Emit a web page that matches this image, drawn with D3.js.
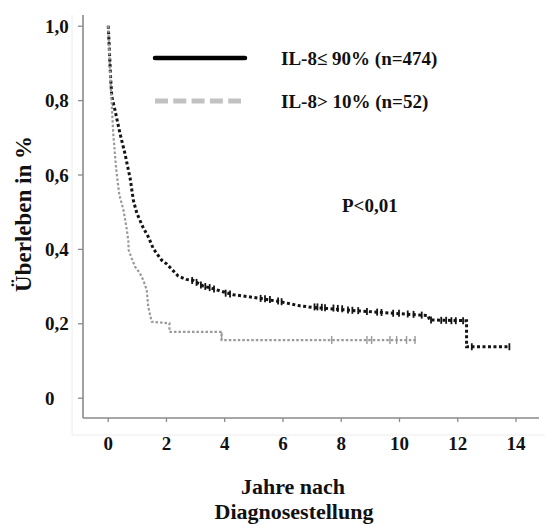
<!DOCTYPE html>
<html>
<head>
<meta charset="utf-8">
<script src="https://cdn.jsdelivr.net/npm/d3@7"></script>
<style>
    body { margin: 0; background: #fff; }
    svg text { font-family: "Liberation Serif", "DejaVu Serif", serif; font-weight: bold; fill: #111; }
</style>
</head>
<body>
<svg id="km" width="545" height="525" viewBox="0 0 545 525"></svg>
<script>
// Survival curve IL-8 <= 90% (years, survival)
const curveLow = [
    [0.02, 1.0], [0.1, 0.86], [0.14, 0.81], [0.25, 0.773], [0.42, 0.711], [0.59, 0.657],
    [0.71, 0.612], [0.77, 0.59], [0.88, 0.531], [1.0, 0.496], [1.2, 0.46], [1.39, 0.433],
    [1.57, 0.40], [1.85, 0.37], [2.02, 0.36], [2.42, 0.327], [2.7, 0.318], [2.94, 0.315],
    [3.28, 0.300], [3.57, 0.294], [3.86, 0.287], [4.31, 0.277], [5.23, 0.267], [5.92, 0.258],
    [6.6, 0.247], [7.0, 0.243], [7.52, 0.240], [8.66, 0.233], [9.8, 0.227], [10.72, 0.222],
    [11.0, 0.221], [11.05, 0.209], [12.32, 0.207], [12.32, 0.137], [13.79, 0.137]
];
// Survival curve IL-8 > 10%
const curveHigh = [
    [0.02, 1.0], [0.1, 0.845], [0.19, 0.711], [0.29, 0.615], [0.4, 0.545], [0.54, 0.505],
    [0.65, 0.455], [0.71, 0.42], [0.72, 0.397], [0.82, 0.375], [0.94, 0.352], [1.11, 0.334],
    [1.22, 0.316], [1.34, 0.29], [1.39, 0.245], [1.51, 0.204], [2.12, 0.2], [2.12, 0.177],
    [3.91, 0.177], [3.91, 0.155], [10.6, 0.155]
];
// Censored observations
const censorLow = [
    [2.9, 0.315], [3.05, 0.31], [3.2, 0.303], [3.35, 0.299], [3.5, 0.296], [3.65, 0.292],
    [4.05, 0.281], [4.2, 0.279], [5.25, 0.267], [5.4, 0.266], [5.57, 0.264], [5.85, 0.26],
    [5.97, 0.258], [7.1, 0.244], [7.2, 0.244], [7.35, 0.243], [7.46, 0.242], [7.75, 0.241],
    [7.9, 0.24], [8.05, 0.239], [8.25, 0.236], [8.4, 0.235], [8.6, 0.234], [8.9, 0.232],
    [9.25, 0.23], [9.4, 0.229], [9.8, 0.227], [10.0, 0.227], [10.3, 0.225], [10.5, 0.224],
    [10.78, 0.222], [11.1, 0.209], [11.45, 0.208], [11.62, 0.208], [11.8, 0.207], [11.95, 0.207],
    [12.2, 0.207], [12.5, 0.137], [13.79, 0.137]
];
const censorHigh = [
    [3.91, 0.166], [7.69, 0.155], [8.9, 0.155], [9.06, 0.155], [9.69, 0.155], [9.92, 0.155],
    [10.26, 0.155], [10.55, 0.155]
];

const xTicks = [0, 2, 4, 6, 8, 10, 12, 14];
const yTicks = [0, 0.2, 0.4, 0.6, 0.8, 1.0];
const yTickLabels = ["0", "0,2", "0,4", "0,6", "0,8", "1,0"];
const legendLabels = ["IL-8\u2264 90% (n=474)", "IL-8> 10% (n=52)"];

const svg = d3.select("#km");

// Scales
const x = d3.scaleLinear().domain([0, 14]).range([107.7, 515.5]);
const y = d3.scaleLinear().domain([0, 1]).range([397.7, 25.7]);

// Faint frame from the scan
svg.append("path")
    .attr("d", "M72,15V435H545")
    .attr("fill", "none")
    .attr("stroke", "#ececec")
    .attr("stroke-width", 1);

// Axes
const axisColor = "#8a8a8a";
svg.append("line")
    .attr("x1", 83).attr("x2", 83)
    .attr("y1", 15).attr("y2", 418)
    .attr("stroke", axisColor).attr("stroke-width", 1.6);
svg.append("line")
    .attr("x1", 83).attr("x2", 539)
    .attr("y1", 418).attr("y2", 418)
    .attr("stroke", axisColor).attr("stroke-width", 1.6);

const yAxis = svg.append("g")
    .attr("transform", "translate(83,0)")
    .call(d3.axisLeft(y).tickValues(yTicks).tickSize(5).tickFormat((d, i) => yTickLabels[i]));
yAxis.select(".domain").remove();
yAxis.selectAll(".tick line").attr("stroke", axisColor).attr("stroke-width", 1.3);
yAxis.selectAll(".tick text")
    .attr("x", -38)
    .attr("dy", "0.35em")
    .attr("text-anchor", "start")
    .style("font-size", "19px");

const xAxis = svg.append("g")
    .attr("transform", "translate(0,418)")
    .call(d3.axisBottom(x).tickValues(xTicks).tickSize(4).tickFormat(d3.format("d")));
xAxis.select(".domain").remove();
xAxis.selectAll(".tick line").attr("stroke", axisColor).attr("stroke-width", 1.3);
xAxis.selectAll(".tick text")
    .attr("y", 32)
    .attr("dy", 0)
    .style("font-size", "19px");
svg.selectAll(".tick text").attr("fill", "#111").attr("font-family", null);

// Axis titles
svg.append("text")
    .attr("transform", "translate(31,214) rotate(-90)")
    .attr("text-anchor", "middle")
    .style("font-size", "23px")
    .text("\u00dcberleben in %");
svg.append("text")
    .attr("x", 293).attr("y", 494)
    .attr("text-anchor", "middle")
    .style("font-size", "22px")
    .text("Jahre nach");
svg.append("text")
    .attr("x", 294).attr("y", 519)
    .attr("text-anchor", "middle")
    .style("font-size", "22px")
    .text("Diagnosestellung");

// Curves
const line = d3.line()
    .x(d => x(d[0]))
    .y(d => y(d[1]));

svg.append("path")
    .datum(curveLow)
    .attr("d", line)
    .attr("fill", "none")
    .attr("stroke", "#141414")
    .attr("stroke-width", 3)
    .attr("stroke-dasharray", "3,2.5");

svg.append("g").selectAll("line")
    .data(censorLow)
    .enter()
    .append("line")
    .attr("x1", d => x(d[0])).attr("x2", d => x(d[0]))
    .attr("y1", d => y(d[1]) - 3.5).attr("y2", d => y(d[1]) + 3.5)
    .attr("stroke", "#141414")
    .attr("stroke-width", 1.8);

svg.append("path")
    .datum(curveHigh)
    .attr("d", line)
    .attr("fill", "none")
    .attr("stroke", "#9a9a9a")
    .attr("stroke-width", 2.2)
    .attr("stroke-dasharray", "2.5,2");

svg.append("g").selectAll("line")
    .data(censorHigh)
    .enter()
    .append("line")
    .attr("x1", d => x(d[0])).attr("x2", d => x(d[0]))
    .attr("y1", d => y(d[1]) - 4).attr("y2", d => y(d[1]) + 4)
    .attr("stroke", "#9a9a9a")
    .attr("stroke-width", 1.4);

// Legend
svg.append("line")
    .attr("x1", 155).attr("x2", 245)
    .attr("y1", 58).attr("y2", 58)
    .attr("stroke", "#000")
    .attr("stroke-width", 4.5)
    .attr("stroke-linecap", "round");
svg.append("line")
    .attr("x1", 155).attr("x2", 241)
    .attr("y1", 101).attr("y2", 101)
    .attr("stroke", "#c2c2c2")
    .attr("stroke-width", 5)
    .attr("stroke-dasharray", "13,5.3");

svg.append("g").selectAll("text")
    .data(legendLabels)
    .enter()
    .append("text")
    .attr("x", 281)
    .attr("y", (d, i) => 64.5 + i * 43)
    .style("font-size", "19px")
    .text(d => d);

svg.append("text")
    .attr("x", 342).attr("y", 212)
    .style("font-size", "19px")
    .text("P<0,01");
</script>
</body>
</html>
